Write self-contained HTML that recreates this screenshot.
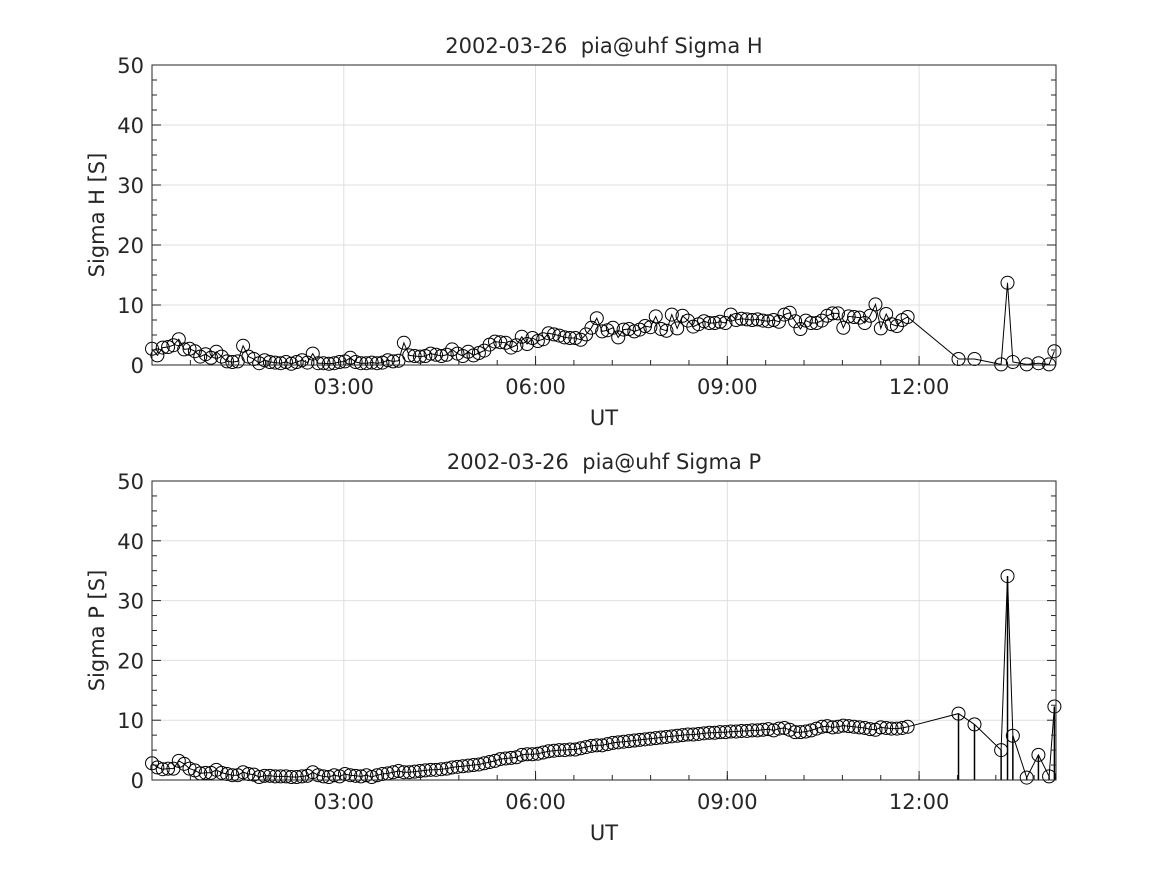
<!DOCTYPE html>
<html><head><meta charset="utf-8"><style>
body{margin:0;background:#fff;}
svg text{font-family:"DejaVu Sans","Liberation Sans",sans-serif;fill:#262626;}
</style></head><body>
<svg id="c" width="1167" height="875"></svg>
<script>
const tailTimes=[757,772,797,803,808,821,832,842,847];
const sigmaH=[2.7,1.6,2.9,3.0,3.3,4.3,2.6,2.7,2.3,1.4,1.8,1.2,2.2,
1.4,0.6,0.5,0.6,3.2,1.4,1.0,0.3,0.8,0.5,0.4,0.3,
0.5,0.2,0.5,0.8,0.4,1.9,0.3,0.3,0.2,0.3,0.5,0.6,
1.2,0.5,0.3,0.3,0.4,0.3,0.4,0.8,0.6,0.7,3.7,1.6,
1.5,1.4,1.5,1.9,1.7,1.5,1.7,2.6,1.9,1.5,2.2,1.6,
2.0,2.4,3.4,3.9,3.8,3.7,2.9,3.3,4.7,3.5,4.5,4.0,
4.3,5.3,5.1,4.9,4.6,4.5,4.5,4.2,5.1,6.2,7.8,5.6,
5.8,6.2,4.6,5.9,6.0,5.6,5.9,6.5,6.3,8.1,6.0,5.7,
8.4,6.1,8.2,7.4,6.4,6.8,7.3,7.0,7.0,7.2,7.0,8.4,
7.5,7.7,7.6,7.5,7.6,7.4,7.3,7.5,7.2,8.4,8.7,7.3,
6.0,7.4,7.0,7.0,7.4,8.2,8.6,8.6,6.2,8.1,8.0,7.9,
7.0,8.2,10.1,6.1,8.5,6.8,6.5,7.5,8.0];
const tailH=[1.0,1.0,0.1,13.7,0.5,0.1,0.3,0.1,2.3];
const sigmaP=[2.8,2.1,1.8,1.9,1.9,3.2,2.7,1.9,1.6,1.1,1.2,1.2,1.7,
1.2,1.0,0.8,0.8,1.3,1.0,0.9,0.5,0.7,0.7,0.6,0.6,
0.6,0.5,0.5,0.6,0.7,1.3,0.8,0.6,0.5,0.8,0.6,1.0,
0.8,0.7,0.6,0.8,0.5,0.8,1.0,1.1,1.3,1.5,1.3,1.3,
1.4,1.5,1.6,1.7,1.7,1.8,1.9,2.1,2.2,2.3,2.4,2.5,
2.6,2.8,3.0,3.2,3.5,3.6,3.7,3.8,4.2,4.3,4.3,4.4,
4.6,4.8,4.9,5.0,5.0,5.1,5.1,5.3,5.5,5.7,5.8,5.8,
6.0,6.2,6.3,6.4,6.5,6.6,6.7,6.8,6.9,7.0,7.1,7.2,
7.3,7.4,7.5,7.6,7.6,7.7,7.8,7.9,7.9,8.0,8.0,8.1,
8.1,8.2,8.2,8.3,8.3,8.4,8.5,8.3,8.6,8.7,8.4,8.0,
8.0,8.1,8.3,8.6,8.9,9.0,8.8,8.9,9.1,9.0,8.9,8.8,
8.7,8.5,8.4,8.8,8.7,8.6,8.6,8.7,8.9];
const tailP=[11.1,9.3,5.0,34.1,7.4,0.4,4.2,0.6,12.3];
const yTicks=[0,10,20,30,40,50];
const xTickLabels=["03:00","06:00","09:00","12:00"];
const xTickMin=[180,360,540,720];
const stepMin=5.03;

const svg=document.getElementById('c');
const NS='http://www.w3.org/2000/svg';
function mk(tag,attrs,parent){const e=document.createElementNS(NS,tag);for(const k in attrs)e.setAttribute(k,attrs[k]);(parent||svg).appendChild(e);return e;}
const L=152,R=1056,tMin=0,tMax=848.5;
function xs(t){return L+(t-tMin)/(tMax-tMin)*(R-L);}

function panel(top,bot,title,ylabel,main,tail,name,stems){
  const g=mk('g',{});
  
  
  const ys=v=>bot-(v/50)*(bot-top);
  mk('rect',{x:L,y:top,width:R-L,height:bot-top,fill:'#fff'},g);
  yTicks.forEach(v=>{const gl=mk('line',{x1:L,x2:R,y1:ys(v),y2:ys(v),stroke:'#dfdfdf','stroke-width':1},g);
    });
  xTickMin.forEach(t=>{const gl=mk('line',{x1:xs(t),x2:xs(t),y1:top,y2:bot,stroke:'#dfdfdf','stroke-width':1},g);
    });
  const pts=[];
  main.forEach((v,i)=>pts.push([i*stepMin,v]));
  tail.forEach((v,i)=>pts.push([tailTimes[i],v]));
  if(stems){tail.forEach((v,i)=>{const s=mk('line',{x1:xs(tailTimes[i]),x2:xs(tailTimes[i]),y1:ys(v),y2:bot,stroke:'#000','stroke-width':1.5},g);
    });}
  const line=mk('polyline',{points:pts.map(p=>xs(p[0]).toFixed(1)+','+ys(p[1]).toFixed(1)).join(' '),fill:'none',stroke:'#000','stroke-width':1},g);
  
  pts.forEach(p=>{const c=mk('circle',{cx:xs(p[0]),cy:ys(p[1]),r:6.5,fill:'none',stroke:'#000','stroke-width':1},g);
    });
  const ax=mk('rect',{x:L,y:top,width:R-L,height:bot-top,fill:'none',stroke:'#262626','stroke-width':1},g);
  
  for(let v=0;v<=50;v+=2.5){const len=(v%10===0)?9:5;
    mk('line',{x1:L,x2:L+len,y1:ys(v),y2:ys(v),stroke:'#262626'},g);
    mk('line',{x1:R,x2:R-len,y1:ys(v),y2:ys(v),stroke:'#262626'},g);}
  yTicks.forEach(v=>{const t=mk('text',{x:L-8,y:ys(v)+8,'text-anchor':'end','font-size':21},g);t.textContent=v;
    });
  for(let t=36;t<tMax;t+=36){mk('line',{x1:xs(t),x2:xs(t),y1:bot,y2:bot-5,stroke:'#262626'},g);}
  xTickMin.forEach((t,i)=>{mk('line',{x1:xs(t),x2:xs(t),y1:bot,y2:bot-9,stroke:'#262626'},g);
    const tx=mk('text',{x:xs(t),y:bot+29,'text-anchor':'middle','font-size':21},g);tx.textContent=xTickLabels[i];
    });
  const xl=mk('text',{x:604,y:bot+60,'text-anchor':'middle','font-size':21},g);xl.textContent='UT';
  
  const cy=(top+bot)/2;
  const yl=mk('text',{x:104,y:cy,'text-anchor':'middle','font-size':21,transform:'rotate(-90 104 '+cy+')'},g);yl.textContent=ylabel;
  
  const tt=mk('text',{x:604,y:top-12,'text-anchor':'middle','font-size':21,style:'white-space:pre'},g);tt.textContent=title;
  
}
panel(65,365,'2002-03-26  pia@uhf Sigma H','Sigma H [S]',sigmaH,tailH,'sigma-h-panel',false);
panel(481,780,'2002-03-26  pia@uhf Sigma P','Sigma P [S]',sigmaP,tailP,'sigma-p-panel',true);
</script>
</body></html>
